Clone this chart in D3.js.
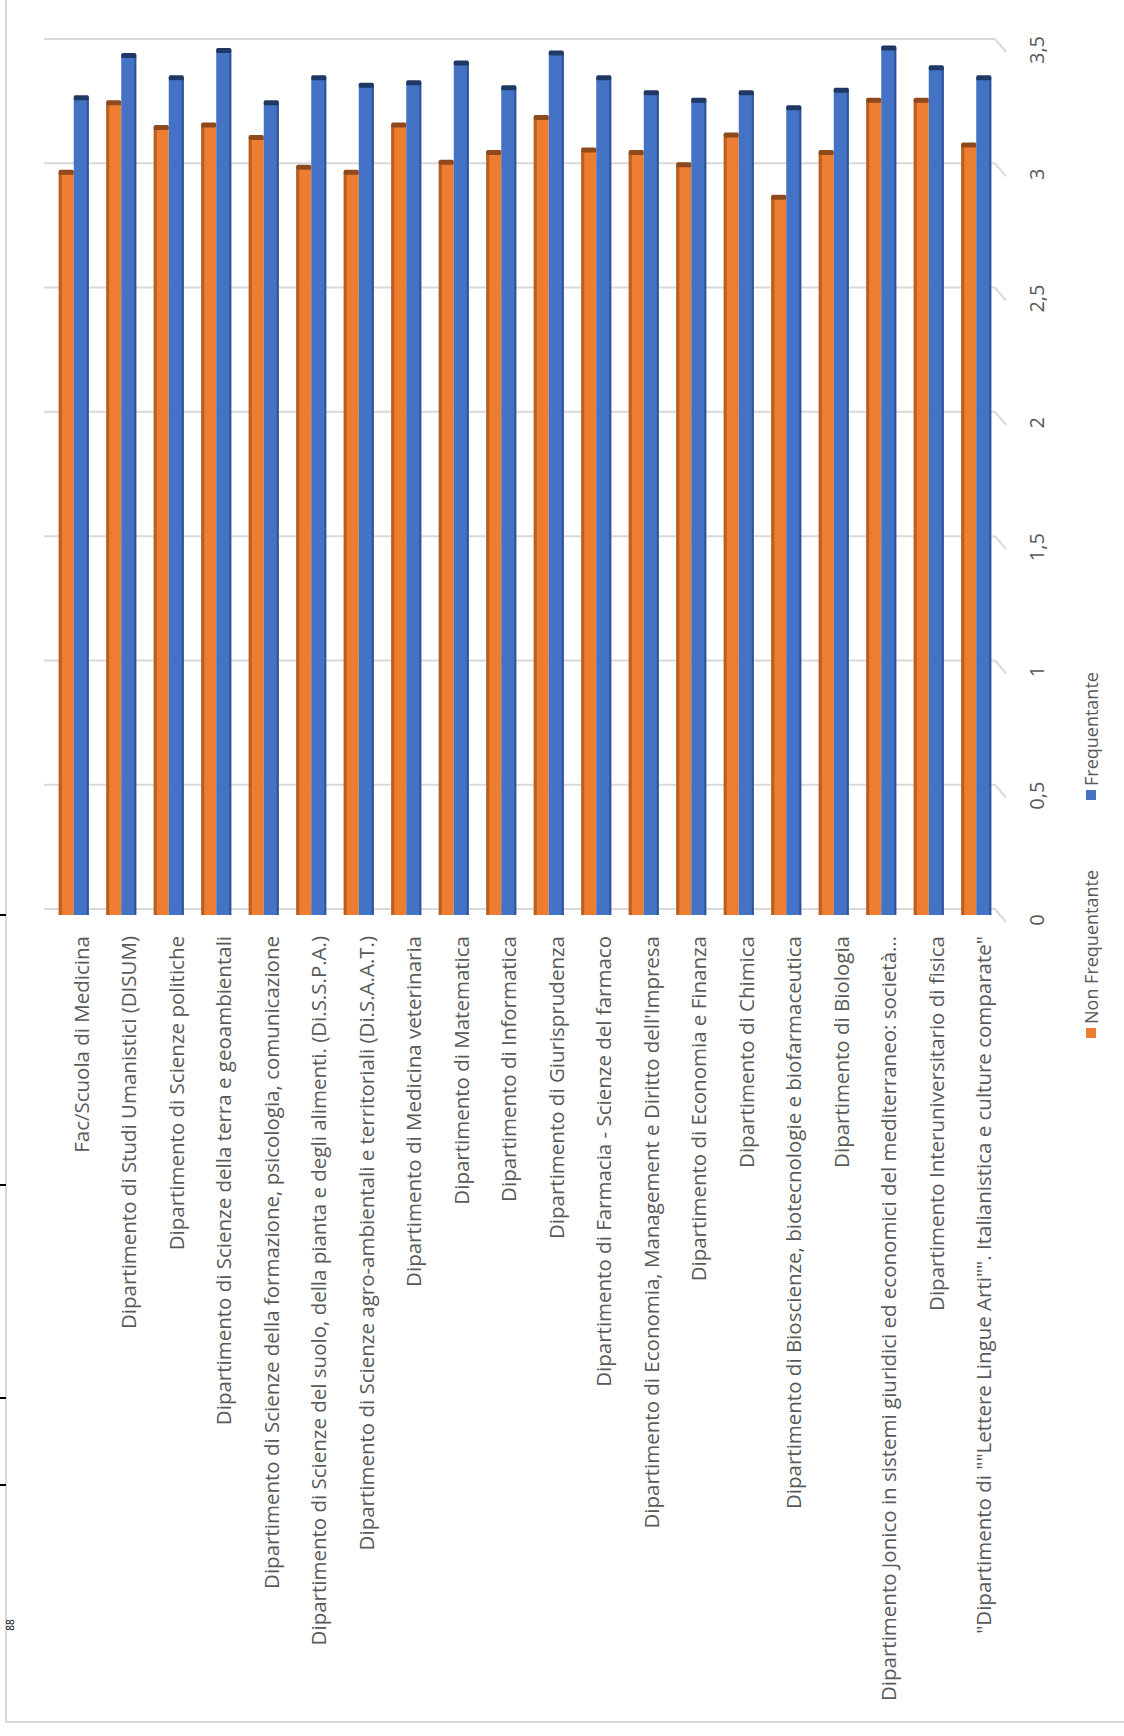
<!DOCTYPE html>
<html>
<head>
<meta charset="utf-8">
<script src="https://cdn.jsdelivr.net/npm/d3@7"></script>
<style>
  html, body { margin: 0; padding: 0; background: #ffffff; }
  svg { display: block; }
  text { font-family: "Open Sans", "Noto Sans", sans-serif; }
</style>
</head>
<body>
<svg id="chart" width="1124" height="1736"></svg>
<script>
const categories = [
  "Fac/Scuola di Medicina",
  "Dipartimento di Studi Umanistici (DISUM)",
  "Dipartimento di Scienze politiche",
  "Dipartimento di Scienze della terra e geoambientali",
  "Dipartimento di Scienze della formazione, psicologia, comunicazione",
  "Dipartimento di Scienze del suolo, della pianta e degli alimenti. (Di.S.S.P.A.)",
  "Dipartimento di Scienze agro-ambientali e territoriali (Di.S.A.A.T.)",
  "Dipartimento di Medicina veterinaria",
  "Dipartimento di Matematica",
  "Dipartimento di Informatica",
  "Dipartimento di Giurisprudenza",
  "Dipartimento di Farmacia - Scienze del farmaco",
  "Dipartimento di Economia, Management e Diritto dell'Impresa",
  "Dipartimento di Economia e Finanza",
  "Dipartimento di Chimica",
  "Dipartimento di Bioscienze, biotecnologie e biofarmaceutica",
  "Dipartimento di Biologia",
  "Dipartimento Jonico in sistemi giuridici ed economici del mediterraneo: società…",
  "Dipartimento Interuniversitario di fisica",
  "\"Dipartimento di \"\"Lettere Lingue Arti\"\". Italianistica e culture comparate\""
];
const seriesNames = ["Non Frequentante", "Frequentante"];
const nonFrequentante = [2.99, 3.27, 3.17, 3.18, 3.13, 3.01, 2.99, 3.18, 3.03, 3.07, 3.21, 3.08, 3.07, 3.02, 3.14, 2.89, 3.07, 3.28, 3.28, 3.10];
const frequentante    = [3.29, 3.46, 3.37, 3.48, 3.27, 3.37, 3.34, 3.35, 3.43, 3.33, 3.47, 3.37, 3.31, 3.28, 3.31, 3.25, 3.32, 3.49, 3.41, 3.37];
const tickValues = [0, 0.5, 1, 1.5, 2, 2.5, 3, 3.5];
const tickLabels = ["0", "0,5", "1", "1,5", "2", "2,5", "3", "3,5"];
const seriesColors = ["#ED7D31", "#4472C4"];
const seriesSide = ["#B85F24", "#2F5597"];
const seriesCap = ["#8E4A1C", "#203864"];

const svg = d3.select("#chart");
const seriesValues = [nonFrequentante, frequentante];

// scales (chart drawn rotated: categories left->right, values upward)
const x = d3.scaleBand().domain(categories).range([50, 1000]).paddingInner(0).paddingOuter(0);
const xs = d3.scaleBand().domain(seriesNames).range([x.bandwidth() / 2 - 15, x.bandwidth() / 2 + 15]);
const y = d3.scaleLinear().domain([0, 3.5]).range([909, 39]);
const depth = 6;

// frame
svg.append("line").attr("x1", 6).attr("x2", 6).attr("y1", 0).attr("y2", 1722)
  .attr("stroke", "#d9d9d9").attr("stroke-width", 2);
svg.append("line").attr("x1", 6).attr("x2", 1124).attr("y1", 1722).attr("y2", 1722)
  .attr("stroke", "#d9d9d9").attr("stroke-width", 2);

// page artifacts at left margin
[915, 1185, 1398, 1485].forEach(v => {
  svg.append("line").attr("x1", 0).attr("x2", 6).attr("y1", v).attr("y2", v)
    .attr("stroke", "#000").attr("stroke-width", 2);
});
svg.append("text").attr("transform", "translate(10,1625) rotate(-90)")
  .attr("text-anchor", "middle").attr("dominant-baseline", "central")
  .attr("font-size", 10).attr("fill", "#000").text("88");

// gridlines (back wall) with depth ticks
const grid = svg.append("g");
tickValues.forEach((t, i) => {
  const yy = y(t);
  grid.append("line").attr("x1", 44).attr("x2", 995).attr("y1", yy).attr("y2", yy)
    .attr("stroke", "#d9d9d9").attr("stroke-width", 2);
  grid.append("line").attr("x1", 995).attr("x2", 1006).attr("y1", yy).attr("y2", yy + 13)
    .attr("stroke", "#d9d9d9").attr("stroke-width", 2);
  svg.append("text")
    .attr("transform", `translate(1036,${yy + 11}) rotate(-90)`)
    .attr("text-anchor", "middle").attr("dominant-baseline", "central")
    .attr("font-size", 20).attr("fill", "#595959")
    .text(tickLabels[i]);
});

// bars
const bars = svg.append("g");
categories.forEach((c, i) => {
  seriesNames.forEach((s, k) => {
    const v = seriesValues[k][i];
    const bx = x(c) + xs(s);
    const bw = xs.bandwidth();
    const top = y(v) + depth;
    const bottom = y(0) + depth;
    bars.append("rect").attr("x", bx).attr("y", top).attr("width", bw).attr("height", bottom - top)
      .attr("fill", seriesColors[k]);
    if (k === 0) {
      bars.append("rect").attr("x", bx).attr("y", top).attr("width", 3).attr("height", bottom - top)
        .attr("fill", seriesSide[k]);
    } else {
      bars.append("rect").attr("x", bx + bw - 2).attr("y", top).attr("width", 2).attr("height", bottom - top)
        .attr("fill", seriesSide[k]);
    }
    bars.append("rect").attr("x", bx).attr("y", top - 2).attr("width", bw).attr("height", 5)
      .attr("rx", 1.5).attr("fill", seriesCap[k]);
  });
});

// category labels
categories.forEach(c => {
  svg.append("text")
    .attr("transform", `translate(${x(c) + x.bandwidth() / 2 + 7},936) rotate(-90)`)
    .attr("text-anchor", "end").attr("dominant-baseline", "central")
    .attr("font-size", 20.5).attr("fill", "#595959")
    .text(c);
});

// legend
const legendItems = [
  { name: seriesNames[0], color: seriesColors[0], y: 1033 },
  { name: seriesNames[1], color: seriesColors[1], y: 795 }
];
legendItems.forEach(d => {
  svg.append("rect").attr("x", 1086).attr("y", d.y - 5).attr("width", 10).attr("height", 10).attr("fill", d.color);
  svg.append("text")
    .attr("transform", `translate(1091,${d.y - 9}) rotate(-90)`)
    .attr("text-anchor", "start").attr("dominant-baseline", "central")
    .attr("font-size", 18).attr("fill", "#595959")
    .text(d.name);
});
</script>
</body>
</html>
